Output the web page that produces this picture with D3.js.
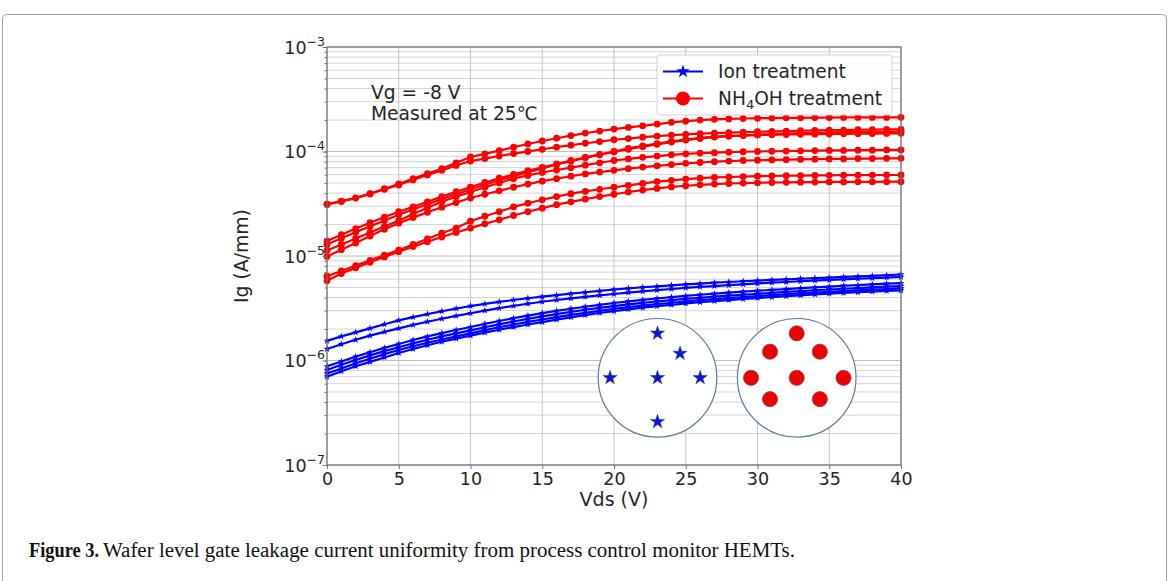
<!DOCTYPE html>
<html>
<head>
<meta charset="utf-8">
<script src="https://cdn.jsdelivr.net/npm/d3@7"></script>
<style>
  body { margin: 0; background: #fff; }
  svg text { font-family: "DejaVu Sans", sans-serif; fill: #262626; }
</style>
</head>
<body>
<svg id="fig" width="1170" height="581"></svg>
<script>
// drain-source voltage (V), one point per volt
const vds = [0, 1, 2, 3, 4, 5, 6, 7, 8, 9, 10, 11, 12, 13, 14, 15, 16, 17, 18, 19, 20,
  21, 22, 23, 24, 25, 26, 27, 28, 29, 30, 31, 32, 33, 34, 35, 36, 37, 38, 39, 40];

// gate leakage, uA/mm, NH4OH treated wafer (8 sites)
const nh4oh = [
  [31.4, 33.5, 36, 39.5, 44, 48.9, 55, 61.5, 68.5, 78, 88.6, 95, 102, 110, 118, 126, 134, 142, 150, 157, 164,
    170, 176, 183, 190, 195, 200, 203, 205, 207, 208, 209, 210, 210, 211, 211, 212, 212, 212, 212, 212.5],
  [31.1, 33.3, 35.8, 39.2, 43.5, 47.8, 53.5, 59.5, 66, 73.5, 81, 85.5, 90.5, 95.5, 100, 105, 110, 115, 120, 124.5, 129.5,
    133, 137, 140.5, 143.5, 146, 148.5, 150, 151.5, 153, 154.5, 156, 157, 158, 159, 160, 160.5, 161.5, 162, 162.5, 163],
  [13.9, 16, 18.3, 20.8, 23.6, 26.5, 29.5, 33, 37, 41.2, 45.7, 50.5, 55.5, 60.5, 65.5, 70.5, 76, 82, 88, 94, 100,
    107, 113, 119, 125, 130, 135, 138.5, 140.5, 142, 143.5, 144.5, 145.5, 146, 146.5, 147, 147.5, 148, 148.5, 149, 149.3],
  [12.9, 14.8, 16.9, 19.2, 21.9, 24.8, 27.9, 31.3, 35, 39, 43.5, 48, 53, 58, 63.5, 69, 75, 81, 87, 93, 99,
    105, 111, 117, 123, 128.5, 133.5, 137.5, 140.5, 143, 145, 147, 148.5, 150, 151, 152, 153, 153.5, 154, 154.5, 155],
  [11.3, 12.9, 14.7, 16.8, 19.2, 21.8, 25.2, 29, 33, 37, 41, 45.5, 50, 55, 59, 63, 66.5, 70, 74, 78, 82,
    85, 88, 90.5, 93, 95, 96.5, 97.5, 98.5, 99.5, 100, 100.5, 101, 101.5, 102, 102.5, 102.5, 103, 103, 103.5, 103.5],
  [9.9, 11.5, 13.3, 15.5, 18, 20.6, 23.3, 26.2, 29.3, 32.5, 35.9, 39, 42, 45.5, 48.8, 52, 55, 58, 61, 63.5, 66,
    68.5, 71, 73, 75, 77, 78.5, 80, 81, 82, 82.5, 83, 83.5, 84, 84.5, 85, 85, 85.5, 85.5, 86, 86],
  [6.4, 7.2, 8.1, 9.1, 10.2, 11.4, 12.9, 14.6, 16.5, 18.5, 21.5, 24, 26.5, 29.5, 32, 34.5, 37, 39.5, 41.5, 43.5, 45.5,
    47.5, 49.5, 51.5, 53, 54.5, 55.5, 56.5, 57, 57.5, 58, 58.3, 58.6, 58.8, 59, 59.2, 59.3, 59.4, 59.5, 59.6, 59.6],
  [5.8, 6.8, 7.7, 8.7, 9.8, 11, 12.3, 13.7, 15.2, 16.8, 18.5, 20.3, 22.2, 24.4, 26.5, 28.7, 31, 33, 35, 37, 39,
    41, 42.7, 44.3, 45.8, 47, 48, 48.8, 49.4, 49.9, 50.2, 50.5, 50.7, 50.9, 51, 51.1, 51.2, 51.3, 51.3, 51.4, 51.4]
];

// gate leakage, uA/mm, ion treated wafer (6 sites)
const ion = [
  [1.54, 1.7, 1.86, 2.03, 2.22, 2.42, 2.6, 2.78, 2.96, 3.14, 3.32, 3.48, 3.64, 3.79, 3.94, 4.08, 4.22, 4.36, 4.5, 4.64, 4.78,
    4.9, 5.02, 5.13, 5.24, 5.35, 5.45, 5.55, 5.64, 5.73, 5.82, 5.9, 5.98, 6.06, 6.14, 6.22, 6.3, 6.38, 6.46, 6.55, 6.65],
  [1.29, 1.43, 1.58, 1.73, 1.88, 2.03, 2.19, 2.35, 2.51, 2.67, 2.83, 3, 3.17, 3.33, 3.49, 3.65, 3.79, 3.93, 4.07, 4.2, 4.33,
    4.46, 4.59, 4.71, 4.83, 4.95, 5.06, 5.16, 5.26, 5.36, 5.46, 5.55, 5.64, 5.73, 5.82, 5.9, 5.98, 6.06, 6.14, 6.22, 6.3],
  [0.88, 0.98, 1.09, 1.2, 1.32, 1.44, 1.57, 1.7, 1.83, 1.96, 2.09, 2.24, 2.39, 2.54, 2.69, 2.84, 2.99, 3.13, 3.27, 3.41, 3.55,
    3.68, 3.8, 3.92, 4.04, 4.15, 4.26, 4.36, 4.46, 4.56, 4.65, 4.74, 4.83, 4.92, 5.01, 5.1, 5.19, 5.27, 5.35, 5.43, 5.51],
  [0.81, 0.91, 1.01, 1.12, 1.23, 1.34, 1.46, 1.58, 1.7, 1.82, 1.94, 2.08, 2.22, 2.36, 2.5, 2.64, 2.78, 2.92, 3.06, 3.19, 3.32,
    3.44, 3.56, 3.67, 3.78, 3.88, 3.98, 4.08, 4.17, 4.26, 4.35, 4.44, 4.53, 4.62, 4.7, 4.78, 4.86, 4.93, 5.01, 5.09, 5.16],
  [0.75, 0.84, 0.94, 1.04, 1.15, 1.26, 1.37, 1.48, 1.59, 1.7, 1.82, 1.95, 2.08, 2.21, 2.34, 2.47, 2.6, 2.73, 2.86, 2.99, 3.12,
    3.24, 3.35, 3.46, 3.57, 3.67, 3.77, 3.86, 3.95, 4.04, 4.13, 4.22, 4.3, 4.38, 4.46, 4.54, 4.62, 4.69, 4.76, 4.83, 4.89],
  [0.7, 0.79, 0.88, 0.97, 1.07, 1.18, 1.29, 1.4, 1.51, 1.62, 1.73, 1.85, 1.97, 2.09, 2.21, 2.33, 2.46, 2.59, 2.72, 2.85, 2.97,
    3.09, 3.2, 3.31, 3.41, 3.51, 3.61, 3.7, 3.79, 3.88, 3.96, 4.04, 4.12, 4.2, 4.28, 4.36, 4.43, 4.5, 4.57, 4.63, 4.68]
];

const xTicks = [0, 5, 10, 15, 20, 25, 30, 35, 40];
const yDecades = [-7, -6, -5, -4, -3];

// measurement sites on each wafer map, in wafer radius units (x right, y up)
const ionSites = [[0, 0.75], [0.38, 0.41], [-0.8, 0], [0, 0], [0.72, 0], [0, -0.74]];
const nh4ohSites = [[0, 0.75], [-0.45, 0.44], [0.39, 0.44], [-0.77, 0], [0, 0], [0.79, 0], [-0.45, -0.36], [0.39, -0.36]];

const blue = '#0000ff';
const red = '#ff0000';

const svg = d3.select('#fig');

// figure frame and caption
svg.append('rect')
  .attr('x', 2.5).attr('y', 14.5)
  .attr('width', 1164).attr('height', 620)
  .attr('rx', 4)
  .attr('fill', 'none').attr('stroke', '#a0a0a0');

svg.append('text')
  .attr('x', 29).attr('y', 557)
  .attr('textLength', 70).attr('lengthAdjust', 'spacingAndGlyphs')
  .style('font-family', '"Liberation Serif", serif').style('font-weight', 'bold')
  .style('font-size', '20px').style('fill', '#111')
  .text('Figure 3.');
svg.append('text')
  .attr('x', 103).attr('y', 557)
  .attr('textLength', 692).attr('lengthAdjust', 'spacingAndGlyphs')
  .style('font-family', '"Liberation Serif", serif')
  .style('font-size', '20px').style('fill', '#111')
  .text('Wafer level gate leakage current uniformity from process control monitor HEMTs.');

// plot area
const x = d3.scaleLinear().domain([0, 40]).range([327, 901]);
const y = d3.scaleLog().domain([1e-7, 1e-3]).range([465, 47]);
const plot = svg.append('g');

const isDecade = d => Math.abs(Math.log10(d) - Math.round(Math.log10(d))) < 1e-6;

// grid: every minor decade line, and major x ticks
plot.append('g')
  .selectAll('line')
  .data(y.ticks())
  .join('line')
  .attr('x1', x(0)).attr('x2', x(40))
  .attr('y1', d => y(d)).attr('y2', d => y(d))
  .attr('stroke', d => isDecade(d) ? '#bdbdbd' : '#d4d4d4')
  .attr('stroke-width', 1);
plot.append('g')
  .selectAll('line')
  .data(xTicks)
  .join('line')
  .attr('x1', d => x(d)).attr('x2', d => x(d))
  .attr('y1', y(1e-7)).attr('y2', y(1e-3))
  .attr('stroke', '#c4c4c4')
  .attr('stroke-width', 1);

const line = d3.line()
  .x((d, i) => x(vds[i]))
  .y(d => y(d * 1e-6));

// NH4OH curves
nh4oh.forEach(s => {
  const g = plot.append('g');
  g.append('path').attr('d', line(s))
    .attr('fill', 'none').attr('stroke', red).attr('stroke-width', 2.2);
  g.selectAll('circle').data(s).join('circle')
    .attr('cx', (d, i) => x(vds[i])).attr('cy', d => y(d * 1e-6))
    .attr('r', 3.4).attr('fill', red);
});

// Ion curves
const smallStar = d3.symbol().type(d3.symbolStar).size(16);
ion.forEach(s => {
  const g = plot.append('g');
  g.append('path').attr('d', line(s))
    .attr('fill', 'none').attr('stroke', blue).attr('stroke-width', 2.2);
  g.selectAll('path.m').data(s).join('path')
    .attr('class', 'm')
    .attr('d', smallStar)
    .attr('transform', (d, i) => `translate(${x(vds[i])},${y(d * 1e-6)})`)
    .attr('fill', blue);
});

// spines
plot.append('rect')
  .attr('x', x(0)).attr('y', y(1e-3))
  .attr('width', x(40) - x(0)).attr('height', y(1e-7) - y(1e-3))
  .attr('fill', 'none').attr('stroke', '#707070').attr('stroke-width', 1.2);

// axes ticks
const gx = svg.append('g')
  .attr('transform', `translate(0,${y(1e-7)})`)
  .call(d3.axisBottom(x).tickValues(xTicks).tickSize(4).tickPadding(4).tickFormat(d3.format('d')));
gx.select('.domain').remove();
gx.selectAll('.tick line').attr('stroke', '#707070');
gx.selectAll('.tick text')
  .style('font-size', '17.5px').style('font-family', '"DejaVu Sans", sans-serif').attr('fill', '#262626');

const gyMinor = svg.append('g')
  .attr('transform', `translate(${x(0)},0)`)
  .call(d3.axisLeft(y).tickValues(y.ticks()).tickSize(2.5).tickFormat(''));
gyMinor.select('.domain').remove();
gyMinor.selectAll('.tick line').attr('stroke', '#707070');

const gyMajor = svg.append('g')
  .attr('transform', `translate(${x(0)},0)`)
  .call(d3.axisLeft(y).tickValues(yDecades.map(e => Math.pow(10, e))).tickSize(4.5).tickFormat(''));
gyMajor.select('.domain').remove();
gyMajor.selectAll('.tick line').attr('stroke', '#707070');

const yLab = svg.append('g').selectAll('text')
  .data(yDecades)
  .join('text')
  .attr('x', 325)
  .attr('y', d => y(Math.pow(10, d)) + 6.5)
  .attr('text-anchor', 'end')
  .style('font-size', '17.5px');
yLab.append('tspan').text('10');
yLab.append('tspan').attr('dy', -8).style('font-size', '12.5px').text(d => '\u2212' + Math.abs(d));

// axis titles
svg.append('text')
  .attr('x', (x(0) + x(40)) / 2).attr('y', 506)
  .attr('text-anchor', 'middle')
  .style('font-size', '19px')
  .text('Vds (V)');
svg.append('text')
  .attr('transform', `translate(248,${(y(1e-7) + y(1e-3)) / 2}) rotate(-90)`)
  .attr('text-anchor', 'middle')
  .style('font-size', '18.8px')
  .text('Ig (A/mm)');

// annotation
const note = svg.append('text').attr('x', 371).attr('y', 99).style('font-size', '18.7px');
note.append('tspan').attr('x', 371).text('Vg = -8 V');
note.append('tspan').attr('x', 371).attr('dy', 20.5).text('Measured at 25\u2103');

// wafer maps
const bigStar = d3.symbol().type(d3.symbolStar).size(62);
function wafer(cx, cy, r, sites, drawSite) {
  const sx = d3.scaleLinear().domain([-1, 1]).range([cx - r, cx + r]);
  const sy = d3.scaleLinear().domain([-1, 1]).range([cy + r, cy - r]);
  const g = svg.append('g');
  g.append('circle').attr('cx', cx).attr('cy', cy).attr('r', r)
    .attr('fill', '#fff').attr('stroke', '#5a7d9a').attr('stroke-width', 1.2);
  sites.forEach(p => drawSite(g, sx(p[0]), sy(p[1])));
}
wafer(657.5, 377.8, 59.3, ionSites, (g, px, py) => {
  g.append('path').attr('d', bigStar).attr('transform', `translate(${px},${py})`)
    .attr('fill', '#0a1ad0').attr('stroke', '#1a2a9a').attr('stroke-width', 0.5);
});
wafer(796.7, 377.8, 59.3, nh4ohSites, (g, px, py) => {
  g.append('circle').attr('cx', px).attr('cy', py).attr('r', 7.6)
    .attr('fill', '#ee0000').attr('stroke', '#8a4a5a').attr('stroke-width', 0.8);
});

// legend
const leg = svg.append('g');
leg.append('rect')
  .attr('x', 657).attr('y', 55).attr('width', 235).attr('height', 60).attr('rx', 3)
  .attr('fill', 'rgba(255,255,255,0.85)').attr('stroke', '#d4d4d4');
const legItems = [
  { label: 'Ion treatment', color: blue, marker: 'star', yy: 71.5 },
  { label: 'NH4OH treatment', color: red, marker: 'circle', yy: 98.5 }
];
legItems.forEach(it => {
  leg.append('line').attr('x1', 663).attr('x2', 703).attr('y1', it.yy).attr('y2', it.yy)
    .attr('stroke', it.color).attr('stroke-width', 2.2);
  if (it.marker === 'star') {
    leg.append('path').attr('d', d3.symbol().type(d3.symbolStar).size(55))
      .attr('transform', `translate(683,${it.yy})`).attr('fill', it.color);
  } else {
    leg.append('circle').attr('cx', 683).attr('cy', it.yy).attr('r', 7).attr('fill', it.color);
  }
  const t = leg.append('text').attr('x', 718).attr('y', it.yy + 6.8).style('font-size', '18.6px');
  if (it.label.startsWith('NH4OH')) {
    t.append('tspan').text('NH');
    t.append('tspan').attr('dy', 4).style('font-size', '13px').text('4');
    t.append('tspan').attr('dy', -4).text('OH treatment');
  } else {
    t.text(it.label);
  }
});
</script>
</body>
</html>
